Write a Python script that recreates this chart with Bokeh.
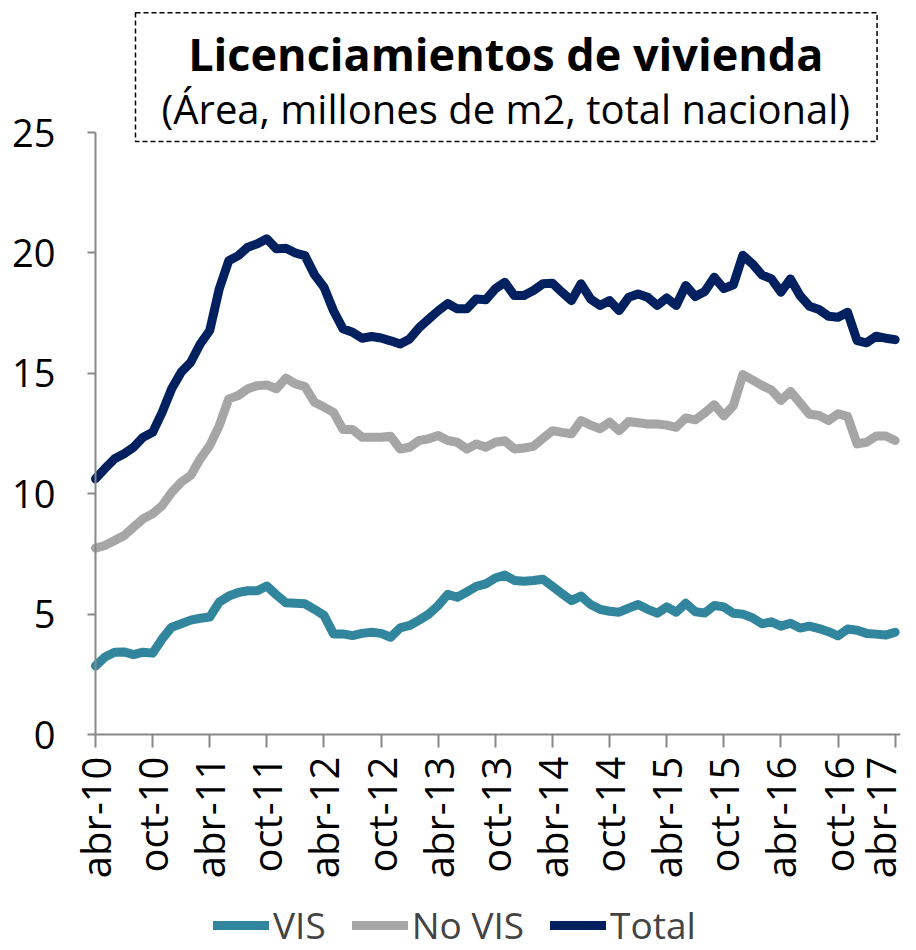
import math
from bokeh.plotting import figure
from bokeh.models import FixedTicker, Legend, LegendItem, Label, BoxAnnotation, Range1d
from bokeh.embed import file_html
from bokeh.resources import INLINE

# ---- data (monthly, abr-10 .. abr-17) ----
tick_labels = ["abr-10", "oct-10", "abr-11", "oct-11", "abr-12", "oct-12", "abr-13",
               "oct-13", "abr-14", "oct-14", "abr-15", "oct-15", "abr-16", "oct-16", "abr-17"]

vis = [2.85, 3.22, 3.42, 3.43, 3.32, 3.42, 3.38, 3.97, 4.46, 4.60,
       4.75, 4.83, 4.88, 5.50, 5.75, 5.90, 5.97, 5.97, 6.17, 5.80,
       5.47, 5.45, 5.43, 5.20, 4.95, 4.18, 4.18, 4.11, 4.20, 4.25,
       4.20, 4.04, 4.43, 4.53, 4.75, 5.00, 5.36, 5.82, 5.70, 5.92,
       6.15, 6.26, 6.50, 6.62, 6.40, 6.37, 6.40, 6.45, 6.15, 5.85,
       5.56, 5.75, 5.40, 5.20, 5.12, 5.08, 5.25, 5.40, 5.20, 5.04,
       5.30, 5.08, 5.45, 5.10, 5.05, 5.36, 5.30, 5.04, 5.00, 4.85,
       4.60, 4.68, 4.50, 4.62, 4.42, 4.50, 4.40, 4.27, 4.10, 4.38,
       4.33, 4.20, 4.17, 4.13, 4.25]

no_vis = [7.74, 7.85, 8.06, 8.26, 8.61, 8.96, 9.17, 9.51, 10.06, 10.48,
          10.76, 11.45, 12.00, 12.83, 13.94, 14.08, 14.36, 14.49, 14.52, 14.36,
          14.80, 14.56, 14.45, 13.80, 13.60, 13.38, 12.67, 12.67, 12.35, 12.35,
          12.35, 12.39, 11.86, 11.93, 12.21, 12.28, 12.42, 12.21, 12.14, 11.86,
          12.07, 11.93, 12.14, 12.20, 11.86, 11.90, 11.97, 12.30, 12.62, 12.55,
          12.49, 13.04, 12.85, 12.70, 12.97, 12.62, 13.00, 12.95, 12.90, 12.90,
          12.85, 12.76, 13.15, 13.07, 13.36, 13.70, 13.23, 13.66, 14.95, 14.73,
          14.50, 14.31, 13.87, 14.25, 13.78, 13.30, 13.25, 13.04, 13.32, 13.21,
          12.07, 12.14, 12.40, 12.40, 12.21]

total = [10.62, 11.05, 11.45, 11.66, 11.93, 12.35, 12.55, 13.38, 14.36, 15.05,
         15.46, 16.22, 16.78, 18.51, 19.68, 19.89, 20.24, 20.38, 20.59, 20.17,
         20.20, 20.00, 19.89, 19.10, 18.58, 17.60, 16.85, 16.71, 16.46, 16.53,
         16.47, 16.35, 16.22, 16.43, 16.90, 17.25, 17.60, 17.90, 17.68, 17.68,
         18.09, 18.06, 18.51, 18.78, 18.23, 18.23, 18.44, 18.72, 18.74, 18.37,
         18.02, 18.72, 18.09, 17.82, 18.02, 17.61, 18.16, 18.30, 18.16, 17.82,
         18.13, 17.82, 18.65, 18.19, 18.40, 18.99, 18.52, 18.68, 19.90, 19.55,
         19.09, 18.92, 18.37, 18.92, 18.23, 17.79, 17.65, 17.37, 17.33, 17.54,
         16.36, 16.27, 16.54, 16.46, 16.40]

months = list(range(len(total)))
tick_pos = [6 * k for k in range(len(tick_labels))]

FONT = "Open Sans"
AXIS_COLOR = "#878787"

# the frame spans the whole canvas; both axes sit at 0 inside it,
# leaving room for their tick labels and for the legend
p = figure(width=908, height=950,
           x_range=Range1d(-9.98, 84.56), y_range=Range1d(-8.97, 30.07),
           output_backend="svg", toolbar_location=None,
           min_border_left=0, min_border_top=10, min_border_right=8, min_border_bottom=0)
p.grid.visible = False
p.outline_line_color = None
p.background_fill_color = "white"

# y axis
p.yaxis.fixed_location = 0
p.yaxis.ticker = FixedTicker(ticks=[0, 5, 10, 15, 20, 25])
p.yaxis.bounds = (0, 25)
p.yaxis.axis_line_color = AXIS_COLOR
p.yaxis.axis_line_width = 2
p.yaxis.major_tick_line_color = AXIS_COLOR
p.yaxis.major_tick_line_width = 2
p.yaxis.major_tick_out = 8
p.yaxis.major_tick_in = 0
p.yaxis.minor_tick_line_color = None
p.yaxis.major_label_text_font = FONT
p.yaxis.major_label_text_font_size = "38px"
p.yaxis.major_label_text_color = "black"
p.yaxis.major_label_standoff = 32

# x axis
p.xaxis.fixed_location = 0
p.xaxis.bounds = (0, 84.56)
p.xaxis.ticker = FixedTicker(ticks=tick_pos)
p.xaxis.major_label_overrides = {t: l for t, l in zip(tick_pos, tick_labels)}
p.xaxis.major_label_orientation = math.pi / 2
p.xaxis.axis_line_color = AXIS_COLOR
p.xaxis.axis_line_width = 2
p.xaxis.major_tick_line_color = AXIS_COLOR
p.xaxis.major_tick_line_width = 2
p.xaxis.major_tick_out = 13
p.xaxis.major_tick_in = 0
p.xaxis.minor_tick_line_color = None
p.xaxis.major_label_text_font = FONT
p.xaxis.major_label_text_font_size = "40px"
p.xaxis.major_label_text_color = "black"
p.xaxis.major_label_standoff = 9

r_vis = p.line(months, vis, line_width=9, line_color="#31859C", line_join="round", line_cap="round")
r_nov = p.line(months, no_vis, line_width=9, line_color="#A6A6A6", line_join="round", line_cap="round")
r_tot = p.line(months, total, line_width=9, line_color="#002060", line_join="round", line_cap="round")

legend = Legend(items=[LegendItem(label="VIS", renderers=[r_vis]),
                       LegendItem(label="No VIS", renderers=[r_nov]),
                       LegendItem(label="Total", renderers=[r_tot])],
                orientation="horizontal", location=(213, 0),
                label_text_font=FONT, label_text_font_size="37px",
                label_height=36, glyph_width=56, glyph_height=36,
                spacing=26, label_standoff=4,
                border_line_color=None, background_fill_alpha=0,
                padding=0, margin=0)
p.add_layout(legend, "center")

# title box
box = BoxAnnotation(left=4.2, right=82.1, bottom=24.63, top=29.98,
                    fill_color=None, fill_alpha=0,
                    line_color="black", line_alpha=1.0, line_width=1.5, line_dash="5 3")
p.add_layout(box)
p.add_layout(Label(x=43.1, y=28.3, text="Licenciamientos de vivienda",
                   text_font=FONT, text_font_style="bold", text_font_size="45px",
                   text_align="center", text_baseline="middle", text_color="black"))
p.add_layout(Label(x=43.1, y=26.0, text="(Área, millones de m2, total nacional)",
                   text_font=FONT, text_font_size="40px",
                   text_align="center", text_baseline="middle", text_color="black"))

open("out.html", "w").write(file_html(p, INLINE))
